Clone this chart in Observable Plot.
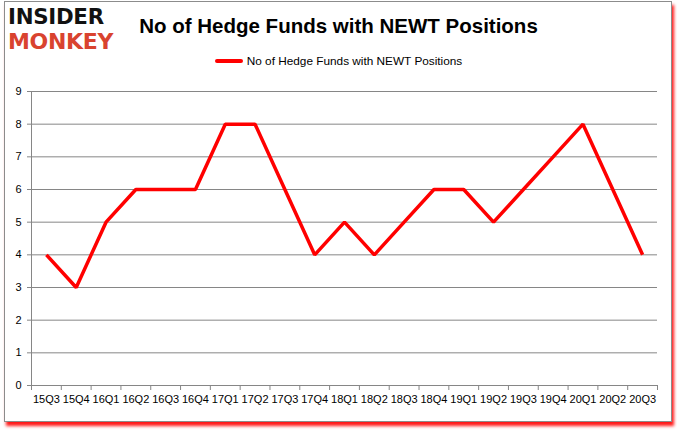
<!DOCTYPE html>
<html><head><meta charset="utf-8">
<script src="https://cdn.jsdelivr.net/npm/d3@7"></script>
<script src="https://cdn.jsdelivr.net/npm/@observablehq/plot@0.6"></script>
<style>
body{margin:0;background:#fff;}
#wrap{position:relative;width:677px;height:431px;overflow:hidden;background:#fff;font-family:"Liberation Sans",Arial,sans-serif;}
#frame{position:absolute;left:4px;top:1px;width:666px;height:419px;border:1px solid #8c8c8c;box-shadow:2px 4px 3px rgba(255,0,0,0.9);background:#fff;}
.logo{position:absolute;left:8px;font-family:"DejaVu Sans",sans-serif;font-weight:900;font-size:22px;line-height:1;transform-origin:0 0;letter-spacing:-0.3px;}
#l1{top:6px;color:#111;transform:scaleX(0.97);}
#l2{top:31px;color:#d9432f;}
#title{position:absolute;top:14px;left:0;width:677px;text-align:center;font-weight:bold;font-size:20.5px;color:#000;}
#legend{position:absolute;top:54px;left:0;width:677px;text-align:center;font-size:11.8px;color:#000;}
#legend span.sw{display:inline-block;width:28px;height:4px;background:#ff0000;vertical-align:middle;margin-right:4px;border-radius:2px;position:relative;top:-1px;}
#chart{position:absolute;left:0;top:80px;}
</style></head>
<body>
<div id="wrap">
  <div id="frame"></div>
  <div class="logo" id="l1">INSIDER</div>
  <div class="logo" id="l2">MONKEY</div>
  <div id="title">No of Hedge Funds with NEWT Positions</div>
  <div id="legend"><span class="sw"></span>No of Hedge Funds with NEWT Positions</div>
  <div id="chart"></div>
</div>
<script>
const quarters = ["15Q3","15Q4","16Q1","16Q2","16Q3","16Q4","17Q1","17Q2","17Q3","17Q4","18Q1","18Q2","18Q3","18Q4","19Q1","19Q2","19Q3","19Q4","20Q1","20Q2","20Q3"];
const positions = [4,3,5,6,6,6,8,8,6,4,5,4,5,6,6,5,6,7,8,6,4];
const yTicks = [0,1,2,3,4,5,6,7,8,9];

const data = quarters.map((q, i) => ({i, q, v: positions[i]}));
const xDomain = [-0.5, quarters.length - 0.5];
const boundaries = d3.range(xDomain[0], xDomain[1] + 0.01, 1);
const grey = "#868686";

const chart = Plot.plot({
  width: 677, height: 340,
  marginTop: 11, marginBottom: 35, marginLeft: 31, marginRight: 20,
  x: {type: "linear", domain: xDomain},
  y: {domain: [0, 9]},
  style: {fontFamily: "'Liberation Sans', Arial, sans-serif", fontSize: "11px", color: "#000", background: "transparent"},
  marks: [
    Plot.gridY(yTicks, {stroke: grey, strokeOpacity: 1}),
    Plot.axisY(yTicks, {tickSize: 4, tickPadding: 6, stroke: grey, strokeOpacity: 1, fill: "#000", label: null}),
    Plot.ruleX([xDomain[0]], {stroke: grey}),
    Plot.axisX(boundaries, {tickSize: 5, tickFormat: () => "", stroke: grey, strokeOpacity: 1, label: null}),
    Plot.axisX(d3.range(quarters.length), {tickSize: 0, tickPadding: 10, tickFormat: i => quarters[i], fill: "#000", label: null}),
    Plot.ruleY([0], {stroke: grey}),
    Plot.line(data, {x: "i", y: "v", stroke: "#ff0000", strokeWidth: 3.5, strokeLinejoin: "miter", strokeLinecap: "butt"})
  ]
});
document.getElementById("chart").appendChild(chart);
</script>
</body></html>
